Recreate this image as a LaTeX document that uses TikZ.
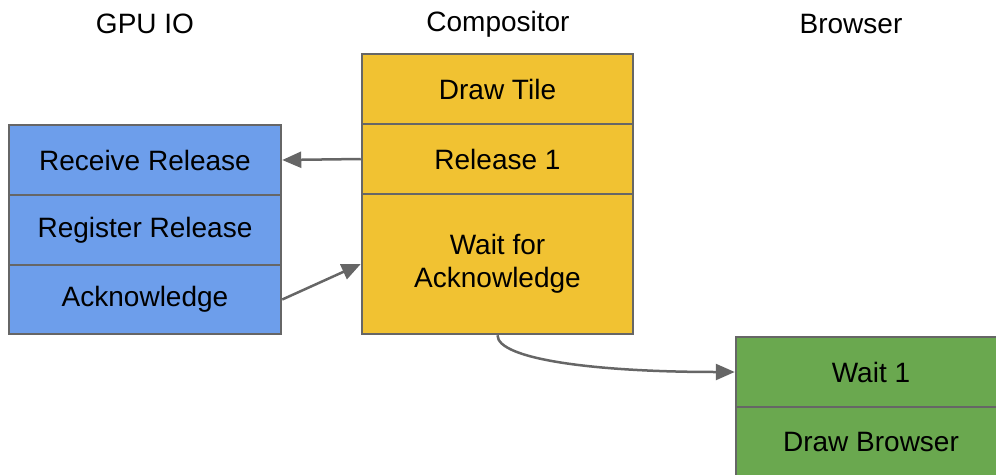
\documentclass[tikz,border=0pt]{standalone}
\usepackage{fontspec}
\setmainfont{Liberation Sans}
\usetikzlibrary{arrows.meta}
\definecolor{bluecell}{HTML}{6D9EEB}
\definecolor{yellowcell}{HTML}{F1C232}
\definecolor{greencell}{HTML}{6AA84F}
\definecolor{edgegray}{HTML}{666666}
\tikzset{
  cell/.style={draw=edgegray, line width=2.5pt, rectangle, inner sep=0pt, align=center,
    font=\fontsize{28}{33}\selectfont},
  bluebox/.style={cell, fill=bluecell, minimum width=272pt},
  yellowbox/.style={cell, fill=yellowcell, minimum width=271pt},
  greenbox/.style={cell, fill=greencell, minimum width=270pt},
  header/.style={font=\fontsize{28}{33}\selectfont, inner sep=0pt},
  conn/.style={draw=edgegray, line width=2.5pt, -{Triangle[length=19pt,width=16pt]}}
}
\begin{document}
\begin{tikzpicture}[x=1pt,y=-1pt]
\useasboundingbox (0,0) rectangle (996,474);
\clip (0,0) rectangle (996,474);
% headers
\node[header] (hGPU) at (145,24) {GPU IO};
\node[header] (hComp) at (498,24) {Compositor};
\node[header] (hBrow) at (851,24) {Browser};
% GPU IO column
\node[bluebox, minimum height=70pt] (bRecv) at (145,160) {Receive Release};
\node[bluebox, minimum height=70pt] (bReg) at (145,230) {Register Release};
\node[bluebox, minimum height=69pt] (bAck) at (145,299.5) {Acknowledge};
% Compositor column
\node[yellowbox, minimum height=70pt] (yDraw) at (497.5,89) {Draw Tile};
\node[yellowbox, minimum height=70pt] (yRel) at (497.5,159) {Release 1};
\node[yellowbox, minimum height=140pt] (yWait) at (497.5,264) {Wait for\\Acknowledge};
% Browser column
\node[greenbox, minimum height=70pt] (gWait) at (871,372) {Wait 1};
\node[greenbox, minimum height=70pt] (gDraw) at (871,442) {Draw Browser};
% connectors
\draw[conn] (yRel.west) -- (bRecv.east);
\draw[conn] (bAck.east) -- (yWait.west);
\draw[conn] (yWait.south) .. controls ++(0,24) and ++(-140,0) .. (gWait.west);
\end{tikzpicture}
\end{document}
